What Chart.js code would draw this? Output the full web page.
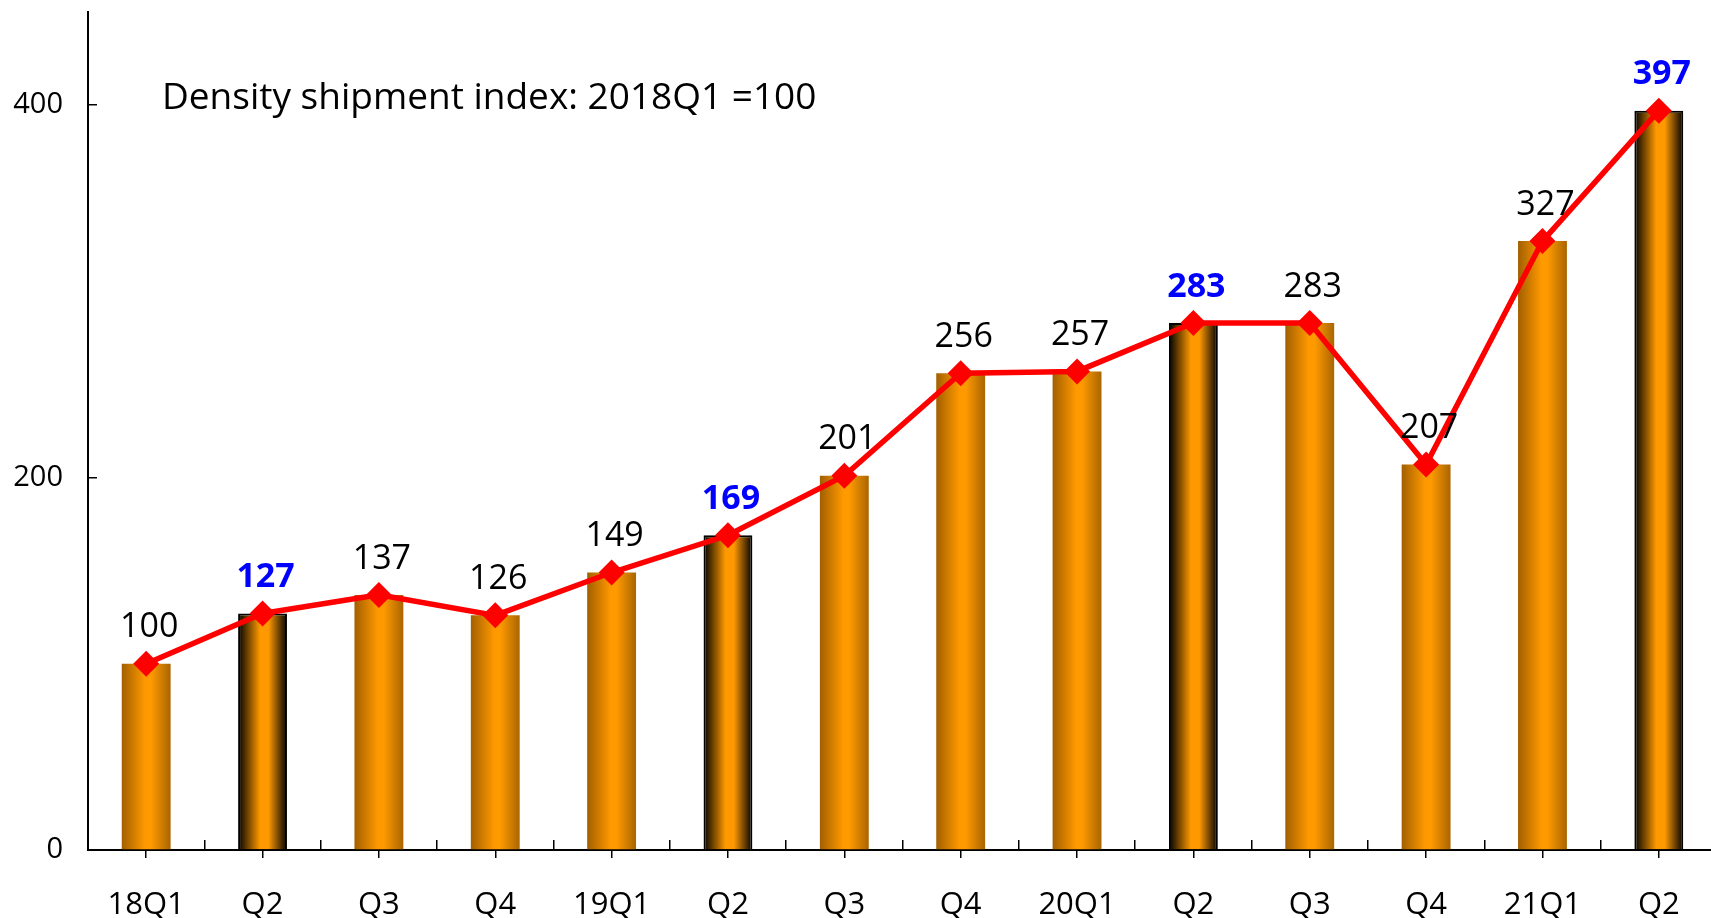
<!DOCTYPE html>
<html>
<head>
<meta charset="utf-8">
<script src="https://cdn.jsdelivr.net/npm/chart.js@4.4.1/dist/chart.umd.min.js"></script>
<style>
	html, body { margin: 0; padding: 0; background: #fff; overflow: hidden; }
	#wrap { position: absolute; left: 0; top: 0; width: 1723px; height: 918px; }
	#note {
		position: absolute; left: 162px; top: 73px;
		font-family: "Open Sans", sans-serif; font-size: 37px; line-height: 44px;
		color: #000; white-space: nowrap;
	}
</style>
</head>
<body>
<div id="wrap"><canvas id="bieuDo"></canvas></div>
<div id="note">Density shipment index: 2018Q1 =100</div>
<script>
// quarter labels
var quarters = ["18Q1", "Q2", "Q3", "Q4", "19Q1", "Q2", "Q3", "Q4", "20Q1", "Q2", "Q3", "Q4", "21Q1", "Q2"]
// density shipment index (2018Q1 = 100)
var indexValues = [100, 127, 137, 126, 149, 169, 201, 256, 257, 283, 283, 207, 327, 397]
// Q2 of each year is highlighted
var highlighted = [false, true, false, false, false, true, false, false, false, true, false, false, false, true]
var yTicks = [0, 200, 400]

var BAR_PCT = 0.42
var FONT = '"Open Sans", sans-serif'

// gradient ngang cho từng cột
function barFill(context) {
	var chart = context.chart
	var x = chart.scales.x
	if (!chart.chartArea || !x) return '#ff9900'
	var i = context.dataIndex
	var center = x.getPixelForValue(i)
	var half = x.width / quarters.length * BAR_PCT / 2
	var g = chart.ctx.createLinearGradient(center - half, 0, center + half, 0)
	if (highlighted[i]) {
		g.addColorStop(0, '#000000')
		g.addColorStop(0.45, '#ff9900')
		g.addColorStop(0.62, '#ff9900')
		g.addColorStop(1, '#000000')
	} else {
		g.addColorStop(0, '#a25f00')
		g.addColorStop(0.48, '#ff9900')
		g.addColorStop(0.6, '#ff9a00')
		g.addColorStop(1, '#a96500')
	}
	return g
}

// bỏ padding tự động của trục
function noPadding(scale) {
	scale.paddingTop = 0
	scale.paddingBottom = 0
	scale.paddingLeft = 0
	scale.paddingRight = 0
}

// vẽ nhãn giá trị phía trên các điểm
var valueLabels = {
	id: 'valueLabels',
	afterDatasetsDraw(chart) {
		var meta = chart.getDatasetMeta(1)
		var c = chart.ctx
		c.save()
		c.textAlign = 'center'
		c.textBaseline = 'middle'
		meta.data.forEach((pt, i) => {
			c.font = (highlighted[i] ? 'bold ' : '') + '34px ' + FONT
			c.fillStyle = highlighted[i] ? '#0000ff' : '#000000'
			c.fillText(String(indexValues[i]), pt.x + 3, pt.y - 36)
		})
		c.restore()
	}
}

var ctx = document.getElementById("bieuDo").getContext("2d")
var chart = new Chart(ctx, {
	type: "bar",
	data: {
		labels: quarters,
		datasets: [{
			type: "bar",
			label: "Index",
			data: indexValues,
			backgroundColor: barFill,
			borderColor: '#000000',
			borderWidth: highlighted.map(h => h ? 2 : 0),
			barPercentage: BAR_PCT,
			categoryPercentage: 1,
			order: 1
		}, {
			type: "line",
			label: "Index line",
			data: indexValues,
			borderColor: '#ff0000',
			borderWidth: 5.5,
			pointStyle: 'rectRot',
			pointRadius: 13,
			pointBackgroundColor: '#ff0000',
			pointBorderWidth: 0,
			tension: 0,
			order: 0
		}]
	},
	options: {
		responsive: true,
		maintainAspectRatio: false,
		animation: false,
		layout: { autoPadding: false, padding: { top: 12, right: 6, left: 0, bottom: 0 } },
		plugins: {
			legend: { display: false },
			tooltip: { enabled: false }
		},
		scales: {
			x: {
				offset: true,
				grid: { offset: false, drawOnChartArea: false, tickLength: 8, color: '#000', lineWidth: 1.5 },
				border: { color: '#000', width: 2 },
				ticks: { font: { family: FONT, size: 31 }, color: '#000', padding: 29, maxRotation: 0, autoSkip: false },
				afterFit: function(scale) { scale.height = 68; noPadding(scale) }
			},
			xb: {
				type: 'category',
				position: { y: 0 },
				offset: true,
				grid: { offset: true, drawOnChartArea: false, tickLength: -10, color: '#000', lineWidth: 1.5 },
				border: { display: false },
				ticks: { display: false },
				afterFit: function(scale) { scale.height = 0; noPadding(scale) }
			},
			y: {
				min: 0,
				max: 450,
				grid: { drawOnChartArea: false, tickLength: -9, color: '#000', lineWidth: 1.5 },
				border: { color: '#000', width: 2 },
				ticks: { stepSize: 200, font: { family: FONT, size: 29 }, color: '#000', padding: 34 },
				afterBuildTicks: function(scale) {
					scale.ticks = yTicks.map(v => ({ value: v }))
				},
				afterFit: function(scale) { scale.width = 88; noPadding(scale) }
			}
		}
	},
	plugins: [valueLabels]
})
</script>
</body>
</html>
